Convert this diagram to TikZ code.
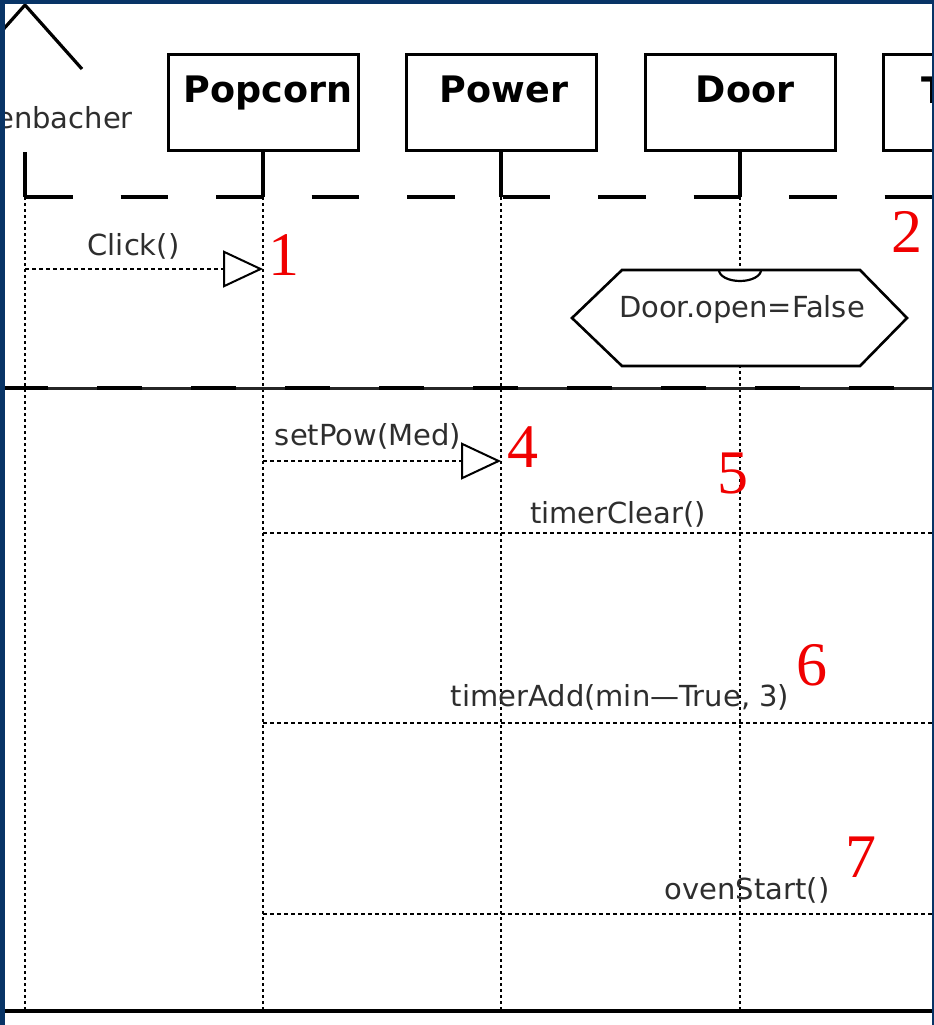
\documentclass[tikz,border=0pt]{standalone}
\usepackage{fontspec}
\setmainfont{DejaVu Sans}
\newfontfamily\numfont{Liberation Serif}
\usetikzlibrary{arrows.meta,calc,positioning}
\definecolor{frameblue}{RGB}{8,52,102}
\definecolor{numred}{RGB}{240,0,0}
\tikzset{
    seq diagram/.style = {x=1pt, y=-1pt},
    objbox/.style      = {draw, line width=3pt, fill=white, inner sep=0pt,
                          minimum width=190pt, minimum height=95pt},
    objtitle/.style    = {font=\fontsize{36.5}{40}\selectfont\bfseries,
                          anchor=base, inner sep=0pt},
    stub/.style        = {line width=3.2pt},
    framedash/.style   = {line width=3.4pt, dash pattern=on 47.5pt off 48pt},
    lifeline/.style    = {line width=1.6pt, dash pattern=on 3pt off 3pt},
    msg/.style         = {line width=1.4pt, dash pattern=on 4pt off 3pt,
                          -{Triangle[open, length=40pt, width=37pt, line width=2pt]}},
    msglabel/.style    = {font=\fontsize{29}{32}\selectfont, text=black!82,
                          anchor=base, inner sep=0pt},
    invbox/.style      = {line width=2.6pt, fill=white},
    stepnum/.style     = {font=\numfont\fontsize{62}{66}\selectfont,
                          text=numred, anchor=base, inner sep=0pt},
    sepline/.style     = {line width=3pt, black!85},
    sepdash/.style     = {line width=3.8pt, dash pattern=on 45pt off 49pt},
}

\begin{document}
\begin{tikzpicture}[seq diagram]
\useasboundingbox (0,0) rectangle (934,1025);
\fill[white] (0,0) rectangle (934,1025);

\begin{scope}
\clip (5,4) rectangle (932,1025);

% ---------- actor and objects ----------
\draw[stub] (-32,69) -- (25,5) -- (82,69);
\node[msglabel, anchor=base east] (actorname) at (133,128) {enbacher};
\coordinate (actor) at (25,152);

\node[objbox] (popcorn) at (263,102.5) {};
\node[objbox] (power)   at (501,102.5) {};
\node[objbox] (door)    at (740,102.5) {};
\node[objbox] (timer)   at (978,102.5) {};

\node[objtitle] at ($(popcorn.north)+(5,49)$) {Popcorn};
\node[objtitle] at ($(power.north)+(3,49)$)   {Power};
\node[objtitle] at ($(door.north)+(5,49)$)    {Door};
\node[objtitle, anchor=base west] at (921,103) {T};

% ---------- lifelines ----------
\coordinate (split)  at (0,197);
\coordinate (bottom) at (0,1011);

\draw[stub] (actor) -- (actor |- split);
\foreach \o in {popcorn,power,door,timer}
    \draw[stub] (\o.south) -- (\o.south |- split);
\draw[framedash] (actor |- split) -- (timer |- split);

\foreach \o in {actor,popcorn,power,door,timer}
    \draw[lifeline] (\o |- split) -- (\o |- bottom);

% separator and bottom edge
\draw[sepline] (0,388) -- (934,388);
\draw[sepdash] (3,388) -- (934,388);
\draw[line width=3.6pt] (0,1011) -- (934,1011);

% ---------- state invariant ----------
\draw[invbox] (572,318) -- (622,270) -- (860,270) -- (907,318)
              -- (860,366) -- (622,366) -- cycle;
\draw[line width=2.2pt] (719,270) arc[start angle=180, end angle=360,
                                      x radius=21pt, y radius=11pt];
\node[msglabel] (doorinv) at (742,317) {Door.open=False};

% ---------- messages ----------
\coordinate (m1) at (0,269);
\coordinate (m4) at (0,461);
\coordinate (m5) at (0,533);
\coordinate (m6) at (0,723);
\coordinate (m7) at (0,914);

\draw[msg] (actor |- m1)   -- (popcorn |- m1);
\draw[msg] (popcorn |- m4) -- (power |- m4);
\draw[msg] (popcorn |- m5) -- (timer |- m5);
\draw[msg] (popcorn |- m6) -- (timer |- m6);
\draw[msg] (popcorn |- m7) -- (timer |- m7);

\node[msglabel] (lclick) at (133.5,255) {Click()};
\node[msglabel] (lpow)   at (368,445)   {setPow(Med)};
\node[msglabel] (lclear) at (618,523)   {timerClear()};
\node[msglabel] (ladd)   at (620,706)   {timerAdd(min—True, 3)};
\node[msglabel] (lstart) at (747,899)   {ovenStart()};

% ---------- step numbers ----------
\node[stepnum] (n1) at (284,275) {1};
\node[stepnum] (n2) at (907,252) {2};
\node[stepnum] (n4) at (523,467) {4};
\node[stepnum] (n5) at (733,493) {5};
\node[stepnum] (n6) at (812,685) {6};
\node[stepnum] (n7) at (861,877) {7};
\end{scope}

% ---------- frame ----------
\fill[frameblue] (0,0) rectangle (934,4);
\fill[frameblue] (0,0) rectangle (5,1025);
\fill[frameblue] (932,0) rectangle (934,1025);
\end{tikzpicture}
\end{document}
